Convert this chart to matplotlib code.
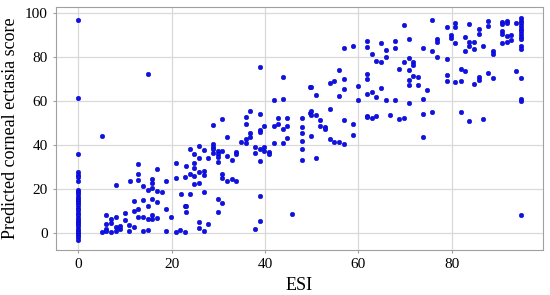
import matplotlib.pyplot as plt

# points at ESI = 0
esi_zero = [0] * 30
score_zero = [97, 61.5, 36, 27.5, 26.5, 25.5, 23.5, 19.5, 18.5, 17.5, 16.5, 15.5,
              14.5, 13.5, 12.5, 11.5, 10.5, 9, 8, 7, 6, 5, 4, 3, 2, 1, 0, -1, -2, -3]

# ESI roughly 5 - 23
esi_low = [5.0, 15.0, 12.9, 21.0, 12.9, 16.9, 11.0, 12.9, 15.9, 18.9, 21.0, 8.0,
           13.9, 15.9, 14.9, 15.9, 16.9, 17.9, 22.9, 11.9, 13.9, 15.9, 16.9, 12.9,
           14.9, 18.9, 22.9, 5.9, 10.0, 11.9, 7.0, 8.0, 10.0, 10.9, 11.9, 12.9,
           13.9, 14.9, 15.9, 15.9, 16.9, 19.9, 5.9, 5.9, 7.0, 8.0, 9.0, 9.0,
           5.0, 5.9, 7.0, 8.0, 10.9, 13.9, 14.9, 18.9, 21.0, 21.9, 22.9]
score_low = [44.2, 72.3, 31.2, 32.0, 27.0, 29.0, 23.6, 24.1, 24.5, 23.6, 24.8, 21.8,
             21.5, 22.6, 19.5, 20.3, 19.1, 18.6, 25.3, 14.7, 15.0, 15.3, 14.1, 10.8,
             12.3, 10.8, 12.3, 8.2, 9.2, 10.1, 6.5, 7.1, 5.8, 3.6, 2.6, 7.1,
             7.4, 6.4, 8.0, 6.4, 7.0, 7.3, 4.1, 2.0, 4.7, 2.9, 2.0, 3.3,
             0.2, 0.9, 0.2, 0.9, 0.8, 0.8, 1.2, 0.9, 0.3, 1.2, 0.2]

# ESI roughly 23 - 50
esi_mid = [38.9, 43.9, 49.6, 41.9, 43.9, 36.9, 30.9, 35.9, 38.9, 42.9, 44.8, 47.9,
           49.6, 28.9, 35.9, 38.9, 38.9, 39.9, 41.9, 42.9, 44.8, 43.9, 47.9, 47.9,
           47.9, 47.9, 47.9, 44.8, 41.9, 43.9, 39.9, 39.9, 40.8, 40.8, 37.9, 37.9,
           38.9, 38.9, 36.9, 36.9, 35.9, 35.9, 34.9, 31.9, 28.9, 28.9, 28.9, 28.9,
           29.9, 29.9, 29.9, 29.9, 30.9, 31.9, 32.9, 33.9, 33.9, 30.9, 30.9, 31.9,
           32.9, 33.9, 27.9, 26.9, 25.9, 25.9, 25.9, 25.9, 24.9, 24.9, 24.9, 24.9,
           24.9, 23.9, 23.9, 26.9, 26.9, 26.9, 23.0, 22.0, 23.9, 23.0, 23.0, 25.9,
           25.9, 26.9, 27.9, 29.9, 30.9, 29.9, 38.9, 38.9, 37.9, 45.8]
score_mid = [75.6, 70.9, 66.5, 60.3, 61.0, 55.6, 51.7, 52.7, 54.1, 52.1, 52.4, 52.4,
             54.7, 48.9, 49.4, 46.8, 45.8, 48.6, 48.6, 49.5, 48.8, 47.3, 48.0, 45.6,
             42.0, 38.2, 33.2, 43.3, 40.8, 40.8, 39.2, 37.3, 36.7, 35.8, 39.2, 36.2,
             38.2, 32.7, 45.6, 43.5, 42.6, 41.1, 41.4, 43.5, 40.3, 39.2, 38.2, 36.2,
             37.3, 35.8, 34.7, 32.4, 37.4, 35.1, 33.2, 37.0, 36.0, 26.8, 25.0, 23.8,
             24.5, 23.5, 34.0, 37.7, 39.5, 33.9, 27.9, 22.9, 35.9, 32.0, 29.7, 26.0,
             22.3, 38.2, 26.8, 28.2, 26.4, 18.8, 30.5, 17.7, 17.7, 12.1, 9.5, 4.9,
             2.4, 0.9, 4.0, 15.6, 13.5, 9.5, 16.7, 5.6, 1.7, 8.8]

# ESI roughly 50 - 76
esi_upper = [69.8, 75.8, 70.8, 61.8, 64.9, 67.8, 67.8, 57.0, 58.9, 61.8, 65.9, 73.8,
             75.8, 62.9, 65.9, 63.8, 64.9, 69.8, 70.8, 71.8, 71.8, 68.8, 70.8, 71.8,
             72.8, 70.8, 70.8, 72.8, 74.8, 73.8, 70.8, 61.8, 61.8, 55.9, 57.0, 54.9,
             53.9, 57.0, 55.9, 59.9, 64.9, 61.8, 62.9, 63.8, 65.9, 67.8, 59.9, 49.9,
             50.9, 49.9, 49.9, 50.9, 53.9, 51.9, 51.9, 52.9, 52.9, 57.0, 58.9, 61.8,
             61.8, 62.9, 63.8, 66.8, 68.8, 69.8, 73.8, 75.8, 49.9, 53.9, 54.9, 55.9,
             57.0, 58.9, 50.9, 73.9]
score_upper = [94.4, 96.8, 88.2, 87.3, 86.2, 87.3, 84.2, 84.2, 84.8, 84.5, 83.3, 84.2,
               82.7, 81.5, 80.0, 78.2, 77.6, 77.9, 79.4, 77.6, 76.4, 74.4, 74.1, 71.5,
               70.9, 69.7, 67.3, 67.3, 65.2, 60.8, 59.0, 72.1, 70.2, 74.1, 69.9, 69.2,
               68.0, 65.5, 62.4, 66.7, 66.1, 63.0, 64.1, 62.0, 60.3, 60.3, 60.5, 66.2,
               62.9, 55.6, 53.6, 53.6, 56.2, 51.2, 48.8, 48.0, 47.1, 51.2, 49.7, 53.2,
               52.5, 52.1, 53.2, 53.8, 51.8, 52.1, 54.1, 54.8, 44.1, 42.6, 41.2, 41.4,
               40.3, 44.4, 34.1, 43.6]

# ESI roughly 76 - 95
esi_high = [78.9, 80.8, 80.8, 83.8, 85.8, 85.8, 87.7, 87.7, 90.7, 90.7, 91.8, 91.8,
            93.8, 94.8, 94.8, 94.8, 94.8, 94.8, 94.8, 94.8, 94.8, 94.8, 94.8, 94.8,
            90.7, 90.7, 91.8, 92.8, 92.8, 91.8, 90.7, 88.8, 88.8, 86.7, 84.8, 84.8,
            83.8, 83.8, 82.8, 82.8, 80.8, 79.8, 79.8, 76.8, 76.8, 76.8, 78.9, 81.9,
            82.8, 78.9, 78.9, 80.8, 81.9, 84.8, 85.8, 85.8, 87.7, 88.8, 93.8, 94.8,
            94.8, 94.8, 81.9, 83.8, 86.7, 94.8]
score_high = [93.5, 95.3, 93.5, 95.0, 92.6, 90.3, 96.5, 94.2, 96.1, 95.0, 96.5, 95.3,
              95.3, 97.6, 96.5, 95.3, 94.1, 92.9, 91.7, 90.5, 89.3, 88.1, 85.0, 83.5,
              92.0, 90.5, 89.5, 90.0, 87.7, 87.0, 86.2, 82.9, 81.4, 84.8, 87.0, 83.5,
              87.0, 85.0, 88.9, 82.7, 86.5, 90.0, 88.5, 88.1, 86.8, 80.0, 79.1, 74.5,
              73.5, 71.7, 69.1, 68.8, 69.1, 67.7, 70.8, 69.4, 72.9, 70.3, 73.6, 70.3,
              60.9, 60.0, 55.0, 51.0, 51.7, 8.0]

esi = esi_zero + esi_low + esi_mid + esi_upper + esi_high
score = score_zero + score_low + score_mid + score_upper + score_high

plt.rcParams['font.family'] = ['Liberation Serif', 'DejaVu Serif']

fig = plt.figure(figsize=(5.5, 2.95), dpi=100)
ax = fig.add_axes([0.102, 0.153, 0.885, 0.823])

ax.scatter(esi, score, s=11, color='#1010e8', edgecolors='#0000c0', linewidths=0.3, zorder=3)

ax.set_xticks([0, 20, 40, 60, 80])
ax.set_yticks([0, 20, 40, 60, 80, 100])
ax.set_ylim(-7.7, 102.7)
ax.grid(True, color='#d9d9d9', linewidth=0.9, zorder=0)
for s in ax.spines.values():
    s.set_color('#a0a0a0')
ax.tick_params(length=2.5, color='#a0a0a0', labelsize=11)

ax.set_xlabel('ESI', fontsize=13)
ax.set_ylabel('Predicted corneal ectasia score', fontsize=13)

fig.savefig('out.png', dpi=100)
